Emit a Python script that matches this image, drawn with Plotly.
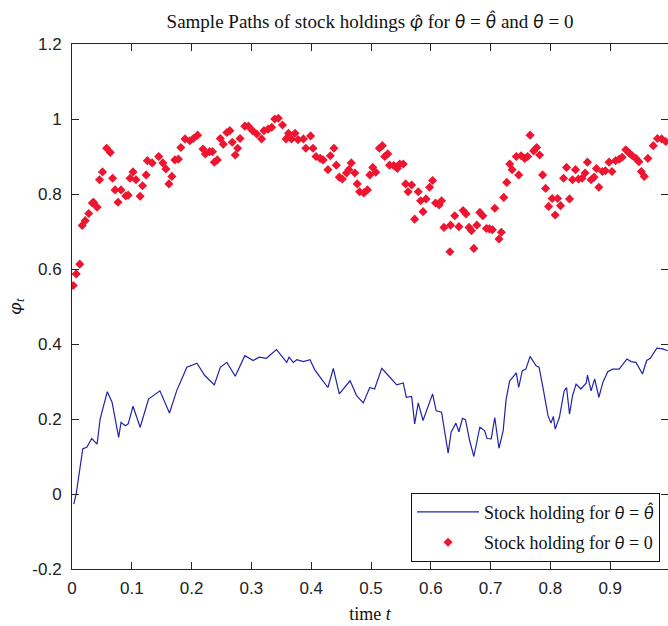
import plotly.graph_objects as go

# ---- data ----
t_blue = [0.003, 0.007, 0.018, 0.025, 0.033, 0.042, 0.047, 0.059, 0.067, 0.078, 0.082, 0.089, 0.094,
          0.102, 0.114, 0.128, 0.147, 0.163, 0.175, 0.192, 0.209, 0.222, 0.238, 0.248, 0.259, 0.273,
          0.289, 0.303, 0.313, 0.325, 0.342, 0.359, 0.363, 0.370, 0.376, 0.387, 0.398, 0.406, 0.417,
          0.428, 0.437, 0.447, 0.465, 0.476, 0.487, 0.498, 0.506, 0.518, 0.529, 0.543, 0.554, 0.559,
          0.568, 0.573, 0.579, 0.587, 0.603, 0.609, 0.618, 0.629, 0.634, 0.642, 0.647, 0.653, 0.658,
          0.665, 0.672, 0.682, 0.690, 0.694, 0.701, 0.707, 0.714, 0.721, 0.726, 0.732, 0.737, 0.743,
          0.747, 0.753, 0.759, 0.766, 0.776, 0.781, 0.787, 0.796, 0.801, 0.805, 0.808, 0.815, 0.823,
          0.827, 0.832, 0.837, 0.843, 0.851, 0.860, 0.862, 0.868, 0.874, 0.881, 0.888, 0.896, 0.904,
          0.915, 0.928, 0.935, 0.943, 0.954, 0.961, 0.967, 0.978, 0.988, 0.996]
v_blue = [-0.027, 0.0, 0.12, 0.125, 0.148, 0.133, 0.2, 0.273, 0.245, 0.151, 0.191, 0.182, 0.187,
          0.234, 0.178, 0.253, 0.275, 0.216, 0.275, 0.338, 0.349, 0.316, 0.291, 0.338, 0.351, 0.314,
          0.369, 0.356, 0.365, 0.362, 0.385, 0.351, 0.365, 0.351, 0.358, 0.353, 0.358, 0.331, 0.307,
          0.284, 0.335, 0.267, 0.302, 0.262, 0.243, 0.284, 0.280, 0.335, 0.316, 0.291, 0.296, 0.258,
          0.260, 0.187, 0.243, 0.196, 0.267, 0.222, 0.218, 0.109, 0.165, 0.189, 0.166, 0.202, 0.198,
          0.142, 0.100, 0.178, 0.169, 0.148, 0.147, 0.204, 0.122, 0.169, 0.253, 0.302, 0.311, 0.323,
          0.284, 0.329, 0.333, 0.367, 0.342, 0.338, 0.289, 0.209, 0.189, 0.207, 0.173, 0.204, 0.275,
          0.284, 0.213, 0.262, 0.293, 0.280, 0.296, 0.317, 0.275, 0.307, 0.258, 0.299, 0.326, 0.333,
          0.333, 0.360, 0.353, 0.351, 0.320, 0.356, 0.362, 0.389, 0.387, 0.382]

t_red = [0.002, 0.007, 0.013, 0.017, 0.022, 0.028, 0.034, 0.036, 0.042, 0.046, 0.051, 0.058, 0.064,
         0.068, 0.072, 0.077, 0.082, 0.090, 0.094, 0.097, 0.102, 0.107, 0.114, 0.118, 0.124, 0.126,
         0.134, 0.145, 0.152, 0.157, 0.162, 0.167, 0.172, 0.178, 0.182, 0.189, 0.197, 0.203, 0.210,
         0.219, 0.223, 0.230, 0.235, 0.238, 0.243, 0.248, 0.253, 0.259, 0.264, 0.268, 0.273, 0.277,
         0.281, 0.289, 0.295, 0.302, 0.309, 0.317, 0.321, 0.328, 0.334, 0.339, 0.345, 0.352, 0.358,
         0.362, 0.367, 0.373, 0.378, 0.387, 0.391, 0.399, 0.403, 0.408, 0.415, 0.420, 0.428, 0.432,
         0.438, 0.442, 0.447, 0.452, 0.459, 0.463, 0.467, 0.473, 0.477, 0.481, 0.488, 0.494, 0.498,
         0.503, 0.508, 0.514, 0.519, 0.523, 0.528, 0.531, 0.538, 0.544, 0.548, 0.554, 0.558, 0.562,
         0.568, 0.573, 0.579, 0.583, 0.587, 0.592, 0.598, 0.603, 0.608, 0.614, 0.618, 0.622, 0.632,
         0.633, 0.640, 0.647, 0.654, 0.659, 0.664, 0.668, 0.672, 0.677, 0.682, 0.687, 0.693, 0.698,
         0.703, 0.707, 0.714, 0.718, 0.722, 0.727, 0.732, 0.736, 0.743, 0.747, 0.751, 0.757, 0.762,
         0.766, 0.772, 0.777, 0.782, 0.787, 0.792, 0.797, 0.803, 0.808, 0.812, 0.817, 0.822, 0.827,
         0.832, 0.837, 0.842, 0.847, 0.853, 0.858, 0.862, 0.868, 0.873, 0.877, 0.881, 0.887, 0.892,
         0.898, 0.903, 0.909, 0.915, 0.920, 0.926, 0.932, 0.937, 0.943, 0.948, 0.952, 0.957, 0.963,
         0.972, 0.979, 0.986, 0.993]
v_red = [0.556, 0.587, 0.613, 0.716, 0.729, 0.748, 0.776, 0.778, 0.765, 0.838, 0.859, 0.922, 0.911,
         0.842, 0.811, 0.778, 0.811, 0.795, 0.797, 0.842, 0.859, 0.838, 0.794, 0.822, 0.851, 0.889,
         0.883, 0.900, 0.883, 0.867, 0.827, 0.847, 0.891, 0.893, 0.924, 0.947, 0.942, 0.948, 0.957,
         0.920, 0.907, 0.913, 0.913, 0.885, 0.891, 0.948, 0.933, 0.964, 0.969, 0.938, 0.904, 0.922,
         0.948, 0.981, 0.981, 0.969, 0.960, 0.947, 0.969, 0.973, 0.978, 1.000, 1.002, 0.984, 0.947,
         0.962, 0.947, 0.962, 0.945, 0.947, 0.922, 0.955, 0.922, 0.900, 0.895, 0.891, 0.865, 0.902,
         0.922, 0.877, 0.845, 0.840, 0.856, 0.865, 0.883, 0.856, 0.827, 0.806, 0.803, 0.811, 0.851,
         0.871, 0.858, 0.922, 0.929, 0.900, 0.907, 0.877, 0.876, 0.868, 0.880, 0.880, 0.827, 0.806,
         0.824, 0.733, 0.806, 0.782, 0.753, 0.787, 0.818, 0.836, 0.776, 0.771, 0.782, 0.711, 0.646,
         0.717, 0.742, 0.713, 0.756, 0.747, 0.711, 0.702, 0.655, 0.717, 0.751, 0.742, 0.708, 0.707,
         0.705, 0.762, 0.680, 0.698, 0.791, 0.831, 0.880, 0.865, 0.900, 0.851, 0.902, 0.895, 0.900,
         0.957, 0.915, 0.924, 0.904, 0.851, 0.815, 0.767, 0.788, 0.744, 0.788, 0.769, 0.842, 0.871,
         0.787, 0.838, 0.865, 0.840, 0.842, 0.856, 0.885, 0.838, 0.845, 0.868, 0.818, 0.860, 0.862,
         0.885, 0.860, 0.889, 0.893, 0.898, 0.918, 0.909, 0.902, 0.895, 0.886, 0.860, 0.847, 0.895,
         0.929, 0.948, 0.947, 0.940]

x_tickvals = [0, 0.1, 0.2, 0.3, 0.4, 0.5, 0.6, 0.7, 0.8, 0.9, 1]
x_ticktext = ["0", "0.1", "0.2", "0.3", "0.4", "0.5", "0.6", "0.7", "0.8", "0.9", "1"]
y_tickvals = [-0.2, 0, 0.2, 0.4, 0.6, 0.8, 1, 1.2]
y_ticktext = ["-0.2", "0", "0.2", "0.4", "0.6", "0.8", "1", "1.2"]

SERIF = "Liberation Serif, Times New Roman, serif"
SANS = "Liberation Sans, Arial, sans-serif"
AX = "#262626"


def gr(s):
    # Greek symbols (with combining hats) in a font that positions the hat correctly
    return '<span style="font-family:Lato;font-style:italic">' + s + '</span>'


TH = gr("θ")
TH_HAT = gr("θ\u0302")
PHI_HAT = gr("φ\u0302")

fig = go.Figure()
fig.add_trace(go.Scatter(
    x=t_blue, y=v_blue, mode="lines",
    line=dict(color="#2222aa", width=1.2),
    name="Stock holding for " + TH + " = " + TH_HAT,
    legendgroup="a",
))
fig.add_trace(go.Scatter(
    x=t_red, y=v_red, mode="markers",
    marker=dict(symbol="diamond", size=7, color="#ee1530", line=dict(width=0)),
    name="Stock holding for " + TH + " = 0",
    legendgroup="b",
))

fig.update_layout(
    width=668, height=626,
    margin=dict(l=72, r=0, t=44, b=57),
    paper_bgcolor="white", plot_bgcolor="white",
    showlegend=True,
    title=dict(
        text="Sample Paths of stock holdings " + PHI_HAT + " for " + TH + " = " + TH_HAT
             + " and " + TH + " = 0",
        x=0.5, xref="paper", xanchor="center",
        y=1 - 21 / 626, yref="container", yanchor="middle",
        font=dict(family=SERIF, size=19, color="#111"),
    ),
    legend=dict(
        x=0.9866, y=0.0139, xanchor="right", yanchor="bottom",
        bgcolor="white", bordercolor="#111", borderwidth=1,
        font=dict(family=SERIF, size=18, color="#111"),
        traceorder="grouped", tracegroupgap=4, itemwidth=62,
    ),
)

fig.update_xaxes(
    range=[0, 0.99666], tickvals=x_tickvals, ticktext=x_ticktext,
    ticks="inside", ticklen=7, tickcolor=AX, tickwidth=1,
    showline=True, linecolor=AX, linewidth=1, mirror="ticks",
    showgrid=False, zeroline=False,
    tickfont=dict(family=SANS, size=17, color="#222"),
    ticklabelstandoff=4,
    title=dict(text="time <i>t</i>", font=dict(family=SERIF, size=18, color="#111"), standoff=9),
)
fig.update_yaxes(
    range=[-0.2, 1.2], tickvals=y_tickvals, ticktext=y_ticktext,
    ticks="inside", ticklen=7, tickcolor=AX, tickwidth=1,
    showline=True, linecolor=AX, linewidth=1, mirror="ticks",
    showgrid=False, zeroline=False,
    tickfont=dict(family=SANS, size=17, color="#222"),
    ticklabelstandoff=6,
    title=dict(text=gr("φ") + "<sub><i>t</i></sub>", font=dict(family=SERIF, size=18, color="#111"),
               standoff=6),
)

fig.write_html("out.html")
